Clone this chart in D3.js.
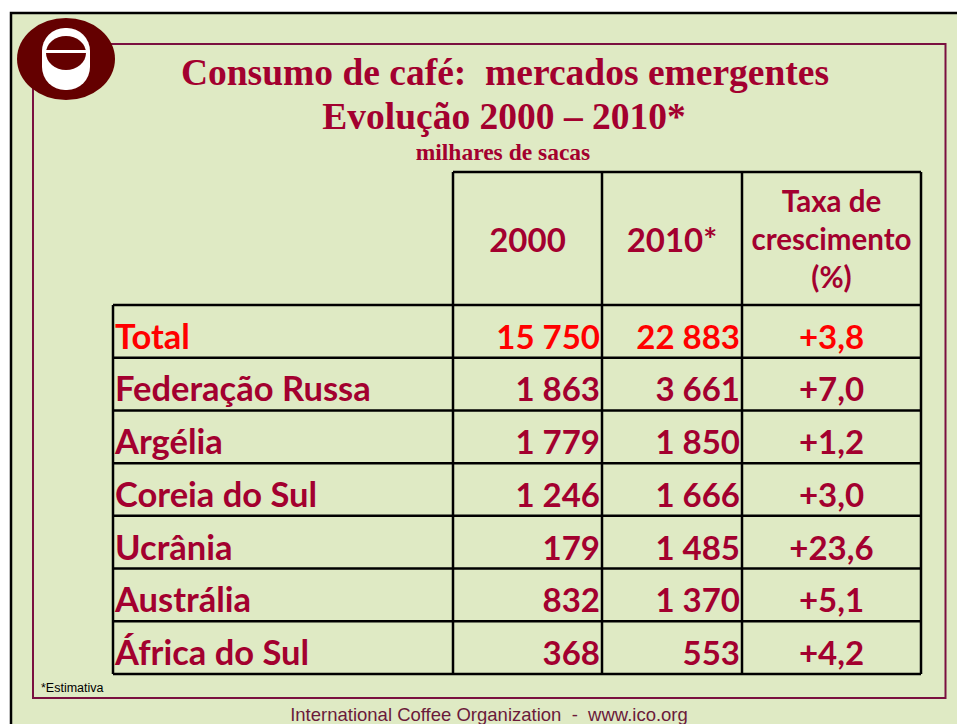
<!doctype html>
<html>
  <head>
    <meta charset="utf-8">
    <title>Consumo de café: mercados emergentes</title>
    <script src="https://cdnjs.cloudflare.com/ajax/libs/d3/7.8.5/d3.min.js"></script>
    <style>
      body { margin: 0; background: #fff; }
      svg { display: block; }
    </style>
  </head>
  <body>
    <div id="slide"></div>
    <script>
      // data
      const countries = ["Total", "Federação Russa", "Argélia", "Coreia do Sul", "Ucrânia", "Austrália", "África do Sul"];
      const cons2000 = [15750, 1863, 1779, 1246, 179, 832, 368];
      const cons2010 = [22883, 3661, 1850, 1666, 1485, 1370, 553];
      const growth = [3.8, 7.0, 1.2, 3.0, 23.6, 5.1, 4.2];
      const headers = [["2000"], ["2010*"], ["Taxa de", "crescimento", "(%)"]];

      const W = 957, H = 724;
      const maroon = "#a3002f", red = "#ff0000", bg = "#dfeac4";

      const svg = d3.select('#slide').append('svg')
        .attr('width', W).attr('height', H);

      // slide background + borders
      svg.append('rect').attr('x', 11).attr('y', 13).attr('width', W).attr('height', H)
        .attr('fill', bg).attr('stroke', '#000').attr('stroke-width', 2.5);
      svg.append('rect').attr('x', 33).attr('y', 44).attr('width', 912.5).attr('height', 654)
        .attr('fill', 'none').attr('stroke', '#7a1040').attr('stroke-width', 2);

      // logo
      const logo = svg.append('g');
      logo.append('ellipse').attr('cx', 66).attr('cy', 59).attr('rx', 49).attr('ry', 41).attr('fill', '#640000');
      logo.append('rect').attr('x', 42).attr('y', 28).attr('width', 48).attr('height', 62).attr('rx', 23).attr('fill', '#fff');
      logo.append('ellipse').attr('cx', 66).attr('cy', 53).attr('rx', 20).attr('ry', 17).attr('fill', '#640000');
      logo.append('rect').attr('x', 45).attr('y', 50).attr('width', 42).attr('height', 3).attr('fill', '#fff');

      // titles
      const serif = "'Liberation Serif', 'Times New Roman', serif";
      svg.append('text').attr('x', 505).attr('y', 85).attr('text-anchor', 'middle')
        .style('font-family', serif).style('font-weight', 'bold').style('font-size', '37.5px')
        .attr('fill', maroon).attr('xml:space', 'preserve')
        .text('Consumo de café:  mercados emergentes');
      svg.append('text').attr('x', 504).attr('y', 129).attr('text-anchor', 'middle')
        .style('font-family', serif).style('font-weight', 'bold').style('font-size', '37.5px')
        .attr('fill', maroon).text('Evolução 2000 – 2010*');
      svg.append('text').attr('x', 503).attr('y', 160).attr('text-anchor', 'middle')
        .style('font-family', serif).style('font-weight', 'bold').style('font-size', '23.5px')
        .attr('fill', maroon).text('milhares de sacas');

      // table scales
      const colEdges = [113, 453, 602, 742, 921];
      const y = d3.scaleBand().domain(countries).range([305, 674]);
      const headTop = 172, headBottom = 305;
      const sans = "Lato, 'Open Sans', sans-serif";
      const fmt = d3.formatLocale({ decimal: ",", thousands: " ", grouping: [3], currency: ["", ""] });
      const fmtInt = fmt.format(",d");
      const fmtPct = fmt.format("+.1f");

      // grid
      const grid = svg.append('g').attr('stroke', '#000').attr('stroke-width', 2.5);
      grid.selectAll('line.v').data(colEdges).join('line')
        .attr('x1', d => d).attr('x2', d => d)
        .attr('y1', (d, i) => i === 0 ? headBottom : headTop).attr('y2', y.range()[1]);
      grid.append('line').attr('x1', colEdges[1]).attr('x2', colEdges[4]).attr('y1', headTop).attr('y2', headTop);
      grid.selectAll('line.h').data(countries).join('line')
        .attr('x1', colEdges[0]).attr('x2', colEdges[4])
        .attr('y1', d => y(d)).attr('y2', d => y(d));
      grid.append('line').attr('x1', colEdges[0]).attr('x2', colEdges[4])
        .attr('y1', y.range()[1]).attr('y2', y.range()[1]);

      // header
      const head = svg.append('g').style('font-family', sans).style('font-weight', 'bold').attr('fill', maroon);
      head.selectAll('text').data(headers).join('text')
        .attr('x', (d, i) => (colEdges[i + 1] + colEdges[i + 2]) / 2)
        .attr('text-anchor', 'middle')
        .style('font-size', d => d.length > 1 ? '29.5px' : '33px')
        .each(function(d) {
          const t = d3.select(this);
          const y0 = d.length > 1 ? 212 : 252;
          d.forEach((line, k) => t.append('tspan').attr('x', t.attr('x')).attr('y', y0 + k * 38).text(line));
        });

      // body
      const rows = svg.append('g').style('font-family', sans).style('font-weight', 'bold').style('font-size', '33px')
        .selectAll('g').data(countries).join('g')
        .attr('fill', (d, i) => i === 0 ? red : maroon)
        .attr('transform', d => `translate(0,${y(d) + y.bandwidth() * 0.83})`);
      rows.append('text').attr('x', colEdges[0] + 2).style('font-size', '34.5px').text(d => d);
      rows.append('text').attr('x', colEdges[2] - 2).attr('text-anchor', 'end')
        .text((d, i) => fmtInt(cons2000[i]));
      rows.append('text').attr('x', colEdges[3] - 2).attr('text-anchor', 'end')
        .text((d, i) => fmtInt(cons2010[i]));
      rows.append('text').attr('x', (colEdges[3] + colEdges[4]) / 2).attr('text-anchor', 'middle')
        .text((d, i) => fmtPct(growth[i]));

      // notes
      const narrow = "'Liberation Sans Narrow', 'Arial Narrow', sans-serif";
      svg.append('text').attr('x', 41).attr('y', 692)
        .style('font-family', narrow).style('font-size', '12.5px').attr('fill', '#000').text('*Estimativa');
      svg.append('text').attr('x', 489).attr('y', 721).attr('text-anchor', 'middle').attr('xml:space', 'preserve')
        .style('font-family', narrow).style('font-size', '18.5px').attr('fill', '#6b1a3a')
        .text('International Coffee Organization  -  www.ico.org');
    </script>
  </body>
</html>
